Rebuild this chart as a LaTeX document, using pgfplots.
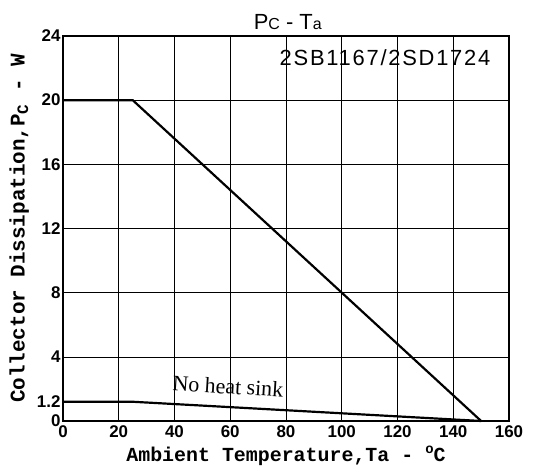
\documentclass[border=0pt]{standalone}
\usepackage{pgfplots}
\pgfplotsset{compat=1.18}
\usepackage{fontspec}
\setmainfont{Liberation Sans}
\newfontfamily\monof{Liberation Mono}
\newfontfamily\seriff{Liberation Serif}
\begin{document}
\begin{tikzpicture}
\path[use as bounding box] (-63bp,-50bp) rectangle (486bp,421bp);
\begin{axis}[
  scale only axis, width=446bp, height=385bp,
  xmin=0, xmax=160, ymin=0, ymax=24,
  xtick={0,20,...,160},
  ytick={0,4,8,12,16,20,24},
  extra y ticks={1.2},
  extra y tick style={grid=none},
  grid=major,
  grid style={black, line width=0.6pt},
  axis line style={line width=1.3pt},
  major tick length=0pt,
  /pgf/number format/assume math mode=true,
  /pgf/number format/fixed,
  tick label style={font=\bfseries\fontsize{17}{17}\selectfont},
  xticklabel style={yshift=-1bp},
  yticklabel style={xshift=1bp},
  xlabel={\monof\bfseries\fontsize{20}{20}\selectfont Ambient Temperature,Ta - \raisebox{0.7ex}{\fontsize{14}{14}\selectfont o}C},
  ylabel={\monof\bfseries\fontsize{21}{21}\selectfont Collector Dissipation,P\raisebox{-0.3ex}{\fontsize{16}{16}\selectfont C} - W},
  xlabel style={at={(axis description cs:0.5,-0.09)}, anchor=center},
  ylabel style={at={(axis description cs:-0.098,0.5)}, anchor=center},
  clip=false,
]
\addplot[black, line width=2.2pt] coordinates {(0,20) (25,20) (150,0)};
\addplot[black, line width=2.2pt] coordinates {(0,1.2) (25,1.2) (150,0)};
\node[font=\fontsize{22}{22}\selectfont] at (axis description cs:0.504,1.035) {P{\fontsize{16}{16}\selectfont C} - T{\fontsize{16}{16}\selectfont a}};
\node[font=\addfontfeature{LetterSpace=8}\fontsize{22}{22}\selectfont] at (axis description cs:0.722,0.943) {2SB1167/2SD1724};
\node[font=\seriff\fontsize{22}{22}\selectfont, rotate=-3.5] at (axis description cs:0.37,0.09) {No heat sink};
\end{axis}
\end{tikzpicture}
\end{document}
